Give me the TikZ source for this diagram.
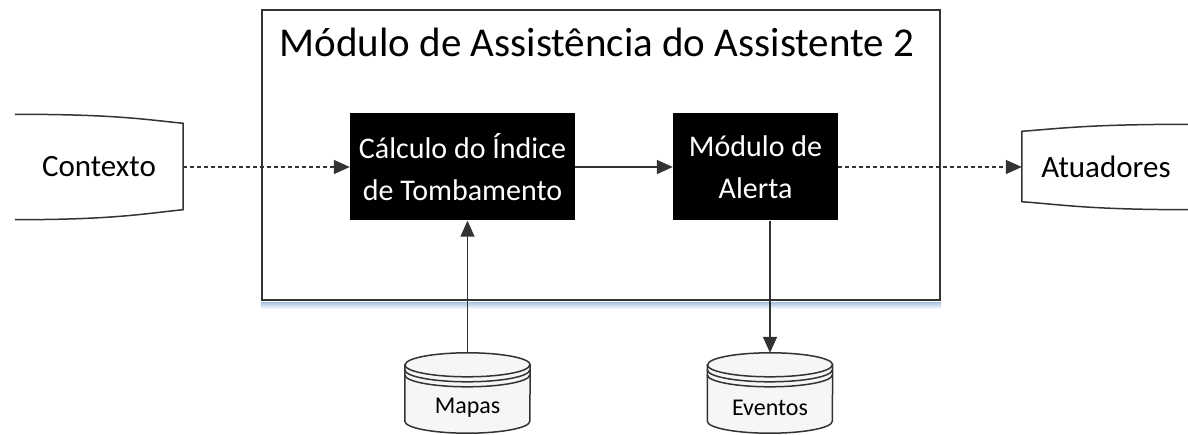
\documentclass[tikz,border=0pt]{standalone}
\usepackage{fontspec}
\setmainfont{Carlito}
\usetikzlibrary{arrows.meta,positioning,calc}
\definecolor{ink}{HTML}{333333}
\definecolor{shadowblue}{HTML}{A9C4E0}
\definecolor{dbfill}{HTML}{F6F6F6}
\newcommand{\dbshape}[1]{%
  \filldraw[outl, fill=dbfill] ([yshift=-12pt]#1.north west) -- ([yshift=12pt]#1.south west)
    arc[start angle=180, end angle=360, x radius=62.5pt, y radius=12pt]
    -- ([yshift=-12pt]#1.north east)
    arc[start angle=0, end angle=180, x radius=62.5pt, y radius=12pt] -- cycle;
  \draw[outl] ([yshift=-12pt]#1.north west)
    arc[start angle=180, end angle=360, x radius=62.5pt, y radius=12pt];
  \draw[outl] ([yshift=-17pt]#1.north west)
    arc[start angle=180, end angle=360, x radius=62.5pt, y radius=12pt];
  \draw[outl] ([yshift=-22pt]#1.north west)
    arc[start angle=180, end angle=360, x radius=62.5pt, y radius=12pt];
}
\begin{document}
\begin{tikzpicture}[x=1pt, y=1pt,
  frame/.style={draw=ink, line width=2.2pt, minimum width=678pt, minimum height=290pt},
  blk/.style={fill=black, text=white, font=\fontsize{30}{42}\selectfont, align=center,
              minimum height=107pt},
  ext/.style={minimum width=168pt, font=\fontsize{31}{36}\selectfont},
  db/.style={minimum width=125pt, minimum height=80pt},
  dbtxt/.style={font=\fontsize{24}{28}\selectfont},
  outl/.style={draw=ink, line width=1.5pt},
  arr/.style={-{Triangle[length=16pt, width=14pt]}, line width=1.5pt, ink},
  darr/.style={arr, dash pattern=on 4pt off 3pt}]
  \useasboundingbox (0,0) rectangle (1188,434);
  \node[frame] (main) at (601,279) {};
  \shade[top color=shadowblue, bottom color=white] ([yshift=-1.1pt]main.south west)
    rectangle ([yshift=-8pt]main.south east);
  \node[font=\fontsize{41}{48}\selectfont, anchor=base] (title) at (597,377)
    {Módulo de Assistência do Assistente 2};
  \node[blk, minimum width=225pt] (calc) at (462.5,267) {Cálculo do Índice\\de Tombamento};
  \node[blk, minimum width=165pt] (alert) at (755.5,267) {Módulo de\\Alerta};
  \node[ext, minimum height=105pt] (ctx) at (99,267) {Contexto};
  \node[ext, minimum height=85pt] (act) at (1106,267) {Atuadores};
  \draw[outl] (ctx.north west) .. controls +(100,0) and +(-40,4) .. ([yshift=-9pt]ctx.north east)
    -- ([yshift=10pt]ctx.south east) .. controls +(-40,-4) and +(100,0) .. (ctx.south west);
  \draw[outl] (act.north east) .. controls +(-100,0) and +(40,3) .. ([yshift=-7pt]act.north west)
    -- ([yshift=8pt]act.south west) .. controls +(40,-3) and +(-100,0) .. (act.south east);
  \node[db] (mapas) at (467.5,41) {};
  \node[db] (evt) at (770,41) {};
  \dbshape{mapas}
  \dbshape{evt}
  \node[dbtxt] (mapastxt) at ([yshift=-15pt]mapas.center) {Mapas};
  \node[dbtxt] (evttxt) at ([yshift=-15pt]evt.center) {Eventos};
  \draw[darr] (ctx) -- (calc);
  \draw[arr] (calc) -- (alert);
  \draw[darr] (alert) -- (act);
  \draw[arr] (mapas.north) -- (mapas.north |- calc.south);
  \draw[arr] (evt.north |- alert.south) -- (evt.north);
\end{tikzpicture}
\end{document}
